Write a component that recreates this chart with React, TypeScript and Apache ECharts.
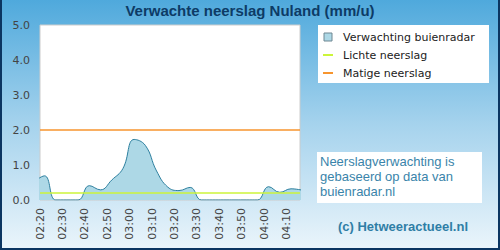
import React, { useEffect, useRef } from "react";
import * as echarts from "echarts";

// Forecast times (5-minute steps) and rainfall intensity (mm/u)
const times = [
  "02:17", "02:22", "02:27", "02:32", "02:37", "02:42", "02:47", "02:52", "02:57",
  "03:02", "03:07", "03:12", "03:17", "03:22", "03:27", "03:32", "03:37", "03:42",
  "03:47", "03:52", "03:57", "04:02", "04:07", "04:12", "04:17",
];
const rain = [
  0.5, 0.69, 0, 0, 0, 0.41, 0.29, 0.57, 0.9,
  1.73, 1.56, 0.83, 0.37, 0.27, 0.36, 0, 0, 0,
  0, 0, 0, 0.38, 0.22, 0.32, 0.28,
];
const axisStart = "02:20";
const axisEnd = "04:16";
const xTickStep = 10; // minutes
const yTicks = [0, 1, 2, 3, 4, 5];
const lightThreshold = 0.2;
const moderateThreshold = 2.0;

const seriesNames = ["Verwachting buienradar", "Lichte neerslag", "Matige neerslag"];
const titleText = "Verwachte neerslag Nuland (mm/u)";
const infoText = ["Neerslagverwachting is", "gebaseerd op data van", "buienradar.nl"];
const creditText = "(c) Hetweeractueel.nl";

const toMin = (t: string) => {
  const [h, m] = t.split(":").map(Number);
  return h * 60 + m;
};
const startMin = toMin(axisStart);
const fmt = (v: number) => {
  const total = Math.round(startMin + v);
  const h = Math.floor(total / 60);
  const m = total % 60;
  return String(h).padStart(2, "0") + ":" + String(m).padStart(2, "0");
};

const LIME = "#ccf53a";
const ORANGE = "#f7952e";

export default function App() {
  const ref = useRef<HTMLDivElement>(null);

  useEffect(() => {
    if (!ref.current) return;
    const chart = echarts.init(ref.current, undefined, { renderer: "svg" });
    const data = times.map((t, i) => [toMin(t) - startMin, rain[i]]);
    const option: any = {
      animation: false,
      backgroundColor: new echarts.graphic.LinearGradient(0, 0, 0, 1, [
        { offset: 0, color: "#4fa9dc" },
        { offset: 0.5, color: "#a6d3ed" },
        { offset: 1, color: "#ebf5fb" },
      ]),
      title: {
        text: titleText,
        left: "center",
        top: 3,
        padding: 0,
        textStyle: {
          fontFamily: "'Liberation Sans', Arial, sans-serif",
          fontSize: 15,
          fontWeight: "bold",
          color: "#0d3b66",
        },
      },
      grid: {
        left: 40,
        top: 25,
        right: 200,
        bottom: 50,
        show: true,
        backgroundColor: "#ffffff",
        borderColor: "#cccccc",
        borderWidth: 1,
      },
      xAxis: {
        type: "value",
        min: 0,
        max: toMin(axisEnd) - startMin,
        interval: xTickStep,
        axisLine: { show: false },
        axisTick: { show: false },
        splitLine: { show: false },
        axisLabel: {
          rotate: 90,
          margin: 8,
          showMaxLabel: false,
          fontFamily: "'DejaVu Sans', sans-serif",
          fontSize: 11,
          color: "#444444",
          formatter: (v: number) => fmt(v),
        },
      },
      yAxis: {
        type: "value",
        min: yTicks[0],
        max: yTicks[yTicks.length - 1],
        interval: 1,
        axisLine: { show: false },
        axisTick: { show: false },
        splitLine: { show: false },
        axisLabel: {
          margin: 10,
          fontFamily: "'DejaVu Sans', sans-serif",
          fontSize: 11,
          color: "#444444",
          formatter: (v: number) => v.toFixed(1),
        },
      },
      legend: {
        orient: "vertical",
        left: 323,
        top: 30,
        padding: 0,
        itemWidth: 10,
        itemHeight: 8,
        itemGap: 4,
        z: 5,
        textStyle: {
          fontFamily: "'DejaVu Sans', sans-serif",
          fontSize: 11,
          color: "#222222",
          lineHeight: 14,
          padding: [0, 0, 0, 5],
        },
        data: [
          {
            name: seriesNames[0],
            icon: "path://M0,0h1v1h-1z",
            itemStyle: { color: "#add8e6", borderColor: "#6e8792", borderWidth: 1 },
          },
          {
            name: seriesNames[1],
            icon: "path://M0,0h10v2h-10z",
            itemStyle: { color: LIME, borderWidth: 0 },
          },
          {
            name: seriesNames[2],
            icon: "path://M0,0h10v2h-10z",
            itemStyle: { color: ORANGE, borderWidth: 0 },
          },
        ],
      },
      series: [
        {
          name: seriesNames[0],
          type: "line",
          data,
          smooth: 0.45,
          showSymbol: false,
          symbol: "none",
          lineStyle: { color: "#2d7f9e", width: 1 },
          itemStyle: { color: "#add8e6" },
          areaStyle: { color: "#add8e6", opacity: 1 },
          z: 2,
        },
        {
          name: seriesNames[1],
          type: "line",
          data: [],
          symbol: "none",
          lineStyle: { color: LIME, width: 1.5 },
          itemStyle: { color: LIME },
          z: 3,
          markLine: {
            silent: true,
            symbol: "none",
            label: { show: false },
            lineStyle: { color: LIME, width: 1.5, type: "solid" },
            data: [{ yAxis: lightThreshold }],
          },
        },
        {
          name: seriesNames[2],
          type: "line",
          data: [],
          symbol: "none",
          lineStyle: { color: ORANGE, width: 1.5 },
          itemStyle: { color: ORANGE },
          z: 3,
          markLine: {
            silent: true,
            symbol: "none",
            label: { show: false },
            lineStyle: { color: ORANGE, width: 1.5, type: "solid" },
            data: [{ yAxis: moderateThreshold }],
          },
        },
      ],
      graphic: [
        {
          type: "rect",
          z: 0,
          shape: { x: 318, y: 25, width: 171, height: 58 },
          style: { fill: "#ffffff" },
        },
        {
          type: "rect",
          z: 0,
          shape: { x: 317, y: 152, width: 165, height: 51 },
          style: { fill: "#ffffff" },
        },
        {
          type: "text",
          z: 1,
          x: 320,
          y: 154,
          style: {
            text: infoText.join("\n"),
            fontFamily: "'Liberation Sans', Arial, sans-serif",
            fontSize: 13,
            lineHeight: 15,
            fill: "#3a84aa",
            verticalAlign: "top",
          },
        },
        {
          type: "text",
          z: 1,
          x: 403,
          y: 226,
          style: {
            text: creditText,
            fontFamily: "'Liberation Sans', Arial, sans-serif",
            fontSize: 13,
            fontWeight: "bold",
            fill: "#2f7ea6",
            align: "center",
            verticalAlign: "middle",
          },
        },
        {
          type: "polyline",
          z: 10,
          shape: { points: [[1, 0], [1, 249], [499, 249], [499, 0]] },
          style: { stroke: "#0b3561", lineWidth: 2, fill: "none" },
        },
      ],
    };
    chart.setOption(option);
    return () => chart.dispose();
  }, []);

  return (
    <div
      ref={ref}
      style={{ position: "fixed", left: 0, top: 0, width: 500, height: 250 }}
    />
  );
}
